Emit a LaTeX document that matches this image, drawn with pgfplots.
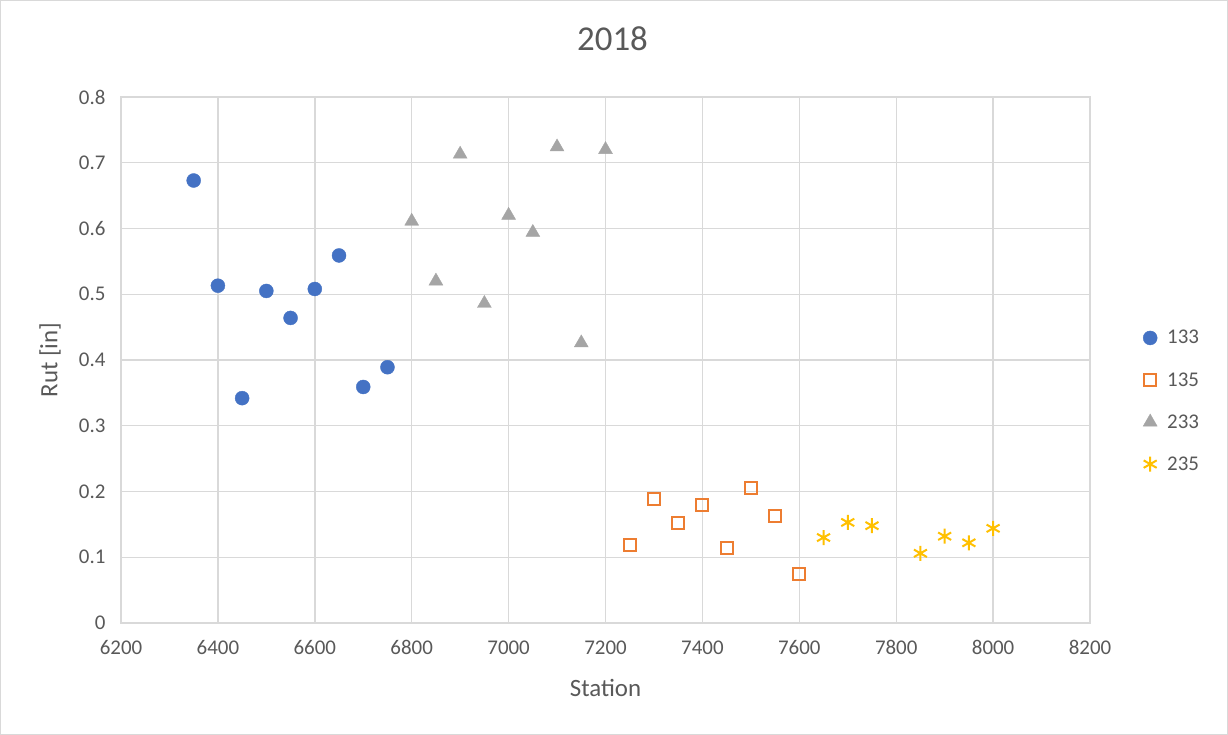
\documentclass[border=0pt]{standalone}
\usepackage{fontspec}
\setmainfont{Carlito}
\usepackage{pgfplots}
\pgfplotsset{compat=1.18}
\definecolor{xblue}{RGB}{68,114,196}
\definecolor{xorange}{RGB}{237,125,49}
\definecolor{xgray}{RGB}{165,165,165}
\definecolor{xyellow}{RGB}{255,192,0}
\definecolor{gridc}{RGB}{217,217,217}
\definecolor{txt}{RGB}{89,89,89}

\begin{document}
\begin{tikzpicture}
\draw[gridc, line width=1.2bp, fill=white] (0.6bp,0.6bp) rectangle (1227.4bp,734.4bp);
\begin{axis}[
    at={(121bp,112bp)}, anchor=south west,
    scale only axis, width=969bp, height=526bp,
    xmin=6200, xmax=8200, ymin=0, ymax=0.8,
    xtick={6200,6400,...,8200},
    ytick={0,0.1,...,0.8},
    grid=major,
    grid style={gridc, line width=1.4bp},
    axis line style={gridc, line width=1.4bp},
    tick style={draw=none},
    /pgf/number format/assume math mode=true,
    xticklabel style={/pgf/number format/1000 sep={}, font=\fontsize{21}{25}\selectfont, text=txt},
    yticklabel style={/pgf/number format/fixed, /pgf/number format/precision=1, font=\fontsize{21}{25}\selectfont, text=txt},
    xticklabel shift=14bp,
    yticklabel shift=12bp,
    title={2018},
    title style={font=\fontsize{35}{42}\selectfont, text=txt, at={(rel axis cs:0.5,1)}, anchor=base, yshift=41bp, xshift=7bp},
    xlabel={Station},
    ylabel={Rut [in]},
    label style={font=\fontsize{25}{30}\selectfont, text=txt},
    xlabel style={at={(rel axis cs:0.5,0)}, anchor=base, yshift=-74bp},
    ylabel style={at={(rel axis cs:0,0.5)}, anchor=center, yshift=71bp},
    legend style={at={(axis description cs:1,0.422)}, anchor=west, xshift=50bp, draw=none, fill=none,
        font=\fontsize{21}{25}\selectfont, text=txt, row sep=23bp,
        /tikz/every odd column/.append style={column sep=8bp}},
    legend cell align=left,
]
\addplot[only marks, mark=*, mark size=7bp, color=xblue, fill=xblue] coordinates {
(6350,0.673) (6400,0.513) (6450,0.342) (6500,0.505) (6550,0.464)
(6600,0.508) (6650,0.559) (6700,0.359) (6750,0.389)};
\addlegendentry{133}
\addplot[only marks, mark=square, mark size=6bp, color=xorange, mark options={line width=2bp}] coordinates {
(7250,0.118) (7300,0.188) (7350,0.152) (7400,0.180) (7450,0.114)
(7500,0.206) (7550,0.162) (7600,0.074)};
\addlegendentry{135}
\addplot[only marks, mark=triangle*, mark size=8bp, color=xgray, fill=xgray] coordinates {
(6800,0.611) (6850,0.520) (6900,0.713) (6950,0.486) (7000,0.620)
(7050,0.594) (7100,0.724) (7150,0.426) (7200,0.720)};
\addlegendentry{233}
\addplot[only marks, mark=asterisk, mark size=7.5bp, color=xyellow, mark options={line width=2bp}] coordinates {
(7650,0.130) (7700,0.153) (7750,0.148) (7850,0.106) (7900,0.132)
(7950,0.122) (8000,0.144)};
\addlegendentry{235}
\end{axis}
\end{tikzpicture}
\end{document}
